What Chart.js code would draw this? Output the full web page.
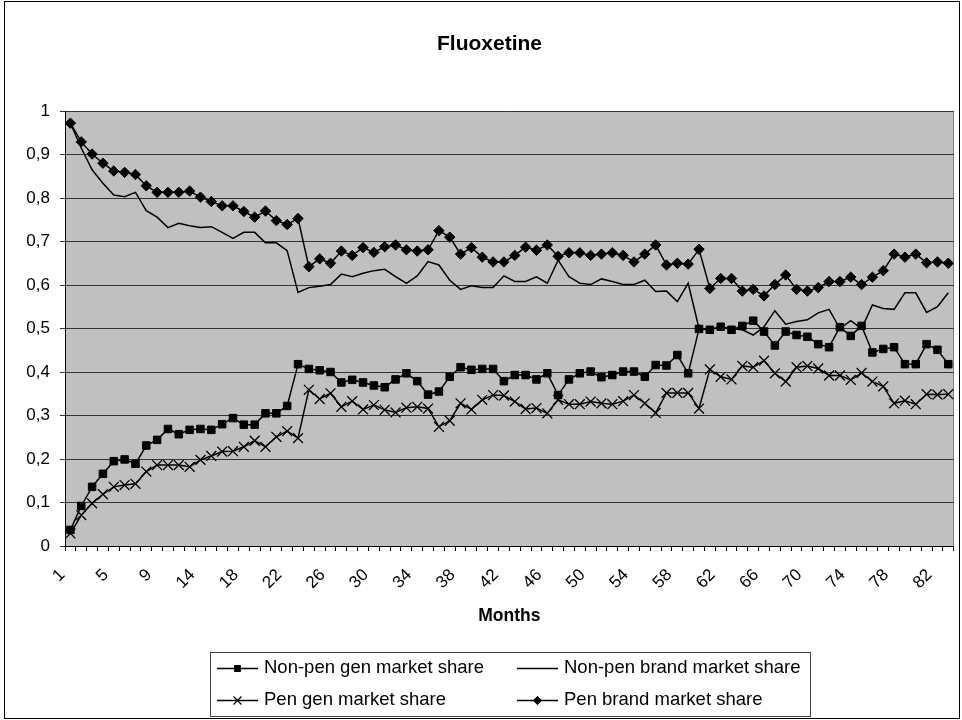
<!DOCTYPE html>
<html>
<head>
<meta charset="utf-8">
<title>Fluoxetine</title>
<script src="https://cdn.jsdelivr.net/npm/chart.js@4/dist/chart.umd.min.js"></script>
<style>
  html, body { margin: 0; padding: 0; background: #ffffff; }
  canvas { display: block; }
</style>
</head>
<body>
<canvas id="chart" width="962" height="720"></canvas>
<script>
// Month numbers on the category axis (month 13 is absent from the series)
const months = [
  1, 2, 3, 4, 5, 6, 7, 8, 9, 10, 11, 12,
  14, 15, 16, 17, 18, 19, 20, 21, 22, 23, 24, 25, 26, 27, 28, 29, 30, 31,
  32, 33, 34, 35, 36, 37, 38, 39, 40, 41, 42, 43, 44, 45, 46, 47, 48, 49,
  50, 51, 52, 53, 54, 55, 56, 57, 58, 59, 60, 61, 62, 63, 64, 65, 66, 67,
  68, 69, 70, 71, 72, 73, 74, 75, 76, 77, 78, 79, 80, 81, 82, 83
];

const seriesNames = [
  'Non-pen gen market share',
  'Non-pen brand market share',
  'Pen gen market share',
  'Pen brand market share'
];

const nonPenGen = [
  0.037, 0.092, 0.136, 0.166, 0.195, 0.199, 0.189, 0.231, 0.244, 0.269,
  0.257, 0.267, 0.269, 0.267, 0.280, 0.294, 0.279, 0.279, 0.305, 0.305,
  0.322, 0.418, 0.407, 0.404, 0.400, 0.376, 0.382, 0.376, 0.369, 0.365,
  0.383, 0.397, 0.379, 0.348, 0.355, 0.389, 0.411, 0.405, 0.407, 0.407,
  0.379, 0.393, 0.393, 0.383, 0.397, 0.347, 0.383, 0.397, 0.401, 0.388,
  0.393, 0.401, 0.401, 0.389, 0.416, 0.415, 0.439, 0.397, 0.499, 0.497,
  0.504, 0.497, 0.506, 0.518, 0.493, 0.461, 0.493, 0.485, 0.481, 0.464,
  0.457, 0.503, 0.483, 0.506, 0.445, 0.453, 0.457, 0.418, 0.418, 0.464,
  0.451, 0.418
];

const nonPenBrand = [
  0.972, 0.915, 0.865, 0.834, 0.807, 0.803, 0.813, 0.771, 0.756, 0.732,
  0.742, 0.736, 0.732, 0.734, 0.721, 0.707, 0.721, 0.721, 0.697, 0.697,
  0.679, 0.583, 0.594, 0.597, 0.601, 0.625, 0.619, 0.627, 0.633, 0.636,
  0.619, 0.604, 0.621, 0.654, 0.646, 0.611, 0.590, 0.598, 0.594, 0.594,
  0.621, 0.608, 0.608, 0.619, 0.604, 0.657, 0.619, 0.604, 0.601, 0.614,
  0.608, 0.601, 0.601, 0.611, 0.585, 0.586, 0.562, 0.604, 0.500, 0.497,
  0.504, 0.500, 0.497, 0.485, 0.504, 0.541, 0.510, 0.516, 0.520, 0.536,
  0.544, 0.500, 0.518, 0.500, 0.554, 0.546, 0.544, 0.582, 0.582, 0.537,
  0.550, 0.582
];

const penGen = [
  0.029, 0.071, 0.098, 0.119, 0.136, 0.140, 0.143, 0.171, 0.186, 0.186,
  0.186, 0.182, 0.198, 0.207, 0.217, 0.218, 0.228, 0.242, 0.228, 0.251,
  0.264, 0.248, 0.359, 0.338, 0.351, 0.320, 0.333, 0.314, 0.324, 0.313,
  0.307, 0.318, 0.320, 0.316, 0.274, 0.288, 0.328, 0.314, 0.336, 0.347,
  0.346, 0.332, 0.315, 0.317, 0.305, 0.336, 0.326, 0.326, 0.332, 0.328,
  0.326, 0.333, 0.347, 0.328, 0.306, 0.352, 0.352, 0.352, 0.316, 0.406,
  0.389, 0.383, 0.414, 0.411, 0.426, 0.397, 0.378, 0.411, 0.414, 0.408,
  0.392, 0.392, 0.382, 0.398, 0.378, 0.367, 0.328, 0.334, 0.326, 0.349,
  0.348, 0.349
];

const penBrand = [
  0.972, 0.929, 0.901, 0.880, 0.862, 0.859, 0.854, 0.828, 0.813, 0.813,
  0.813, 0.816, 0.802, 0.792, 0.782, 0.782, 0.769, 0.756, 0.770, 0.748,
  0.739, 0.753, 0.642, 0.660, 0.650, 0.678, 0.668, 0.686, 0.675, 0.688,
  0.692, 0.681, 0.678, 0.681, 0.725, 0.710, 0.671, 0.686, 0.664, 0.653,
  0.653, 0.668, 0.687, 0.680, 0.692, 0.666, 0.674, 0.674, 0.668, 0.671,
  0.674, 0.668, 0.653, 0.671, 0.692, 0.646, 0.650, 0.648, 0.682, 0.592,
  0.615, 0.615, 0.586, 0.590, 0.575, 0.601, 0.623, 0.590, 0.586, 0.594,
  0.608, 0.608, 0.618, 0.601, 0.618, 0.633, 0.671, 0.664, 0.671, 0.651,
  0.653, 0.650
];

const LABEL_EVERY = 4;

Chart.defaults.font.family = "'Liberation Sans', Arial, Helvetica, sans-serif";
Chart.defaults.color = '#000000';

// Grey plot background with a thin frame, drawn under the grid and series
const plotFrame = {
  id: 'plotFrame',
  beforeDraw(chart) {
    const { ctx, chartArea: a } = chart;
    ctx.save();
    ctx.fillStyle = '#c0c0c0';
    ctx.fillRect(a.left, a.top, a.right - a.left, a.bottom - a.top);
    ctx.strokeStyle = '#808080';
    ctx.lineWidth = 1;
    ctx.strokeRect(Math.round(a.left) + 0.5, Math.round(a.top) + 0.5,
                   Math.round(a.right - a.left) - 1, Math.round(a.bottom - a.top));
    ctx.restore();
  }
};

// Two-column boxed legend below the axis title, plus the outer chart border
const boxedLegend = {
  id: 'boxedLegend',
  afterDraw(chart) {
    const { ctx } = chart;
    const cells = [
      { i: 0, x: 217, y: 668 },
      { i: 1, x: 517, y: 668 },
      { i: 2, x: 217, y: 700 },
      { i: 3, x: 517, y: 700 }
    ];
    const sample = 41;
    ctx.save();
    ctx.font = "18.5px 'Liberation Sans', Arial, sans-serif";
    ctx.textBaseline = 'middle';
    ctx.textAlign = 'left';
    let rightEnd = 0;
    cells.forEach(c => {
      const ds = chart.data.datasets[c.i];
      ctx.strokeStyle = '#000';
      ctx.fillStyle = '#000';
      ctx.lineWidth = 1.3;
      ctx.beginPath();
      ctx.moveTo(c.x, c.y + 0.5);
      ctx.lineTo(c.x + sample, c.y + 0.5);
      ctx.stroke();
      if (ds.pointRadius > 0) {
        ctx.lineWidth = ds.pointBorderWidth;
        Chart.helpers.drawPoint(ctx, {
          pointStyle: ds.pointStyle,
          radius: ds.pointRadius * 0.8,
          borderWidth: ds.pointBorderWidth,
          rotation: 0
        }, c.x + sample / 2, c.y + 0.5);
      }
      ctx.fillStyle = '#000';
      ctx.fillText(ds.label, c.x + sample + 6, c.y);
      rightEnd = Math.max(rightEnd, c.x + sample + 6 + ctx.measureText(ds.label).width);
    });
    ctx.strokeStyle = '#404040';
    ctx.lineWidth = 1;
    const left = 210.5, top = 652.5;
    ctx.strokeRect(left, top, Math.round(rightEnd + 9) - left + 0.5, 64);
    ctx.strokeStyle = '#000';
    ctx.strokeRect(4.5, 1.5, 955, 717);
    ctx.restore();
  }
};

const common = {
  borderColor: '#000000',
  backgroundColor: '#000000',
  pointBackgroundColor: '#000000',
  pointBorderColor: '#000000',
  borderWidth: 1.5,
  tension: 0,
  fill: false
};

new Chart(document.getElementById('chart'), {
  type: 'line',
  data: {
    labels: months.map(String),
    datasets: [
      Object.assign({}, common, {
        label: seriesNames[0], data: nonPenGen,
        pointStyle: 'rect', pointRadius: 5.3, pointBorderWidth: 1, order: 3
      }),
      Object.assign({}, common, {
        label: seriesNames[1], data: nonPenBrand,
        pointRadius: 0, pointBorderWidth: 0, order: 2
      }),
      Object.assign({}, common, {
        label: seriesNames[2], data: penGen,
        pointStyle: 'crossRot', pointRadius: 7, pointBorderWidth: 1.3, order: 1
      }),
      Object.assign({}, common, {
        label: seriesNames[3], data: penBrand,
        pointStyle: 'rectRot', pointRadius: 5.2, pointBorderWidth: 1, order: 0
      })
    ]
  },
  options: {
    responsive: false,
    animation: false,
    events: [],
    layout: { padding: { left: 22, right: 5, top: 0, bottom: 90 } },
    plugins: {
      legend: { display: false },
      tooltip: { enabled: false },
      title: {
        display: true,
        text: 'Fluoxetine',
        color: '#000',
        font: { size: 21, weight: 'bold' },
        padding: { top: 31.4, bottom: 54.4 }
      }
    },
    scales: {
      x: {
        offset: true,
        grid: { offset: true, drawOnChartArea: false, drawTicks: true, tickLength: 5, color: '#000' },
        border: { display: true, color: '#000', width: 1 },
        ticks: {
          autoSkip: false,
          maxRotation: 45,
          minRotation: 45,
          padding: 14,
          labelOffset: -8,
          font: { size: 17 },
          callback(value, index) {
            return index % LABEL_EVERY === 0 ? this.getLabelForValue(value) : '';
          }
        },
        title: {
          display: true,
          text: 'Months',
          font: { size: 17.5, weight: 'bold' },
          padding: { top: 0, bottom: 3.5 }
        },
        afterFit(scale) {
          scale.height = 84;
          scale.paddingLeft = 0;
          scale.paddingRight = 0;
        }
      },
      y: {
        min: 0,
        max: 1,
        grid: { color: '#333333', lineWidth: 1, tickLength: 5 },
        border: { display: true, color: '#000', width: 1 },
        ticks: {
          stepSize: 0.1,
          padding: 10,
          font: { size: 17 },
          callback(value) {
            return String(Number(value.toFixed(1))).replace('.', ',');
          }
        },
        afterFit(scale) {
          scale.width = 43;
          scale.paddingTop = 0;
          scale.paddingBottom = 0;
        }
      }
    }
  },
  plugins: [plotFrame, boxedLegend]
});
</script>
</body>
</html>
